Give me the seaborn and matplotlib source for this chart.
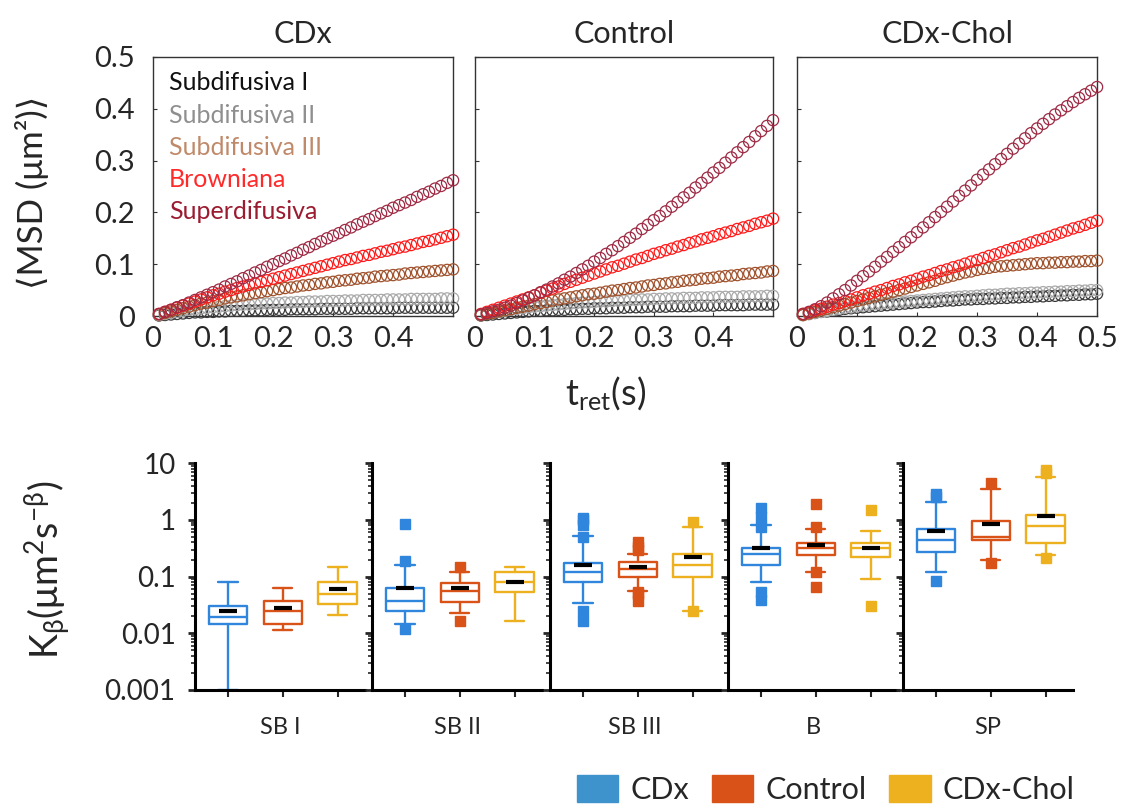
import numpy as np
import pandas as pd
import matplotlib
matplotlib.use("Agg")
import matplotlib.pyplot as plt
from matplotlib.patches import Patch
import seaborn as sns

# MSD curves, lag time 0.01 .. 0.50 s
T_RET = [0.01, 0.02, 0.03, 0.04, 0.05, 0.06, 0.07, 0.08, 0.09, 0.10,
         0.11, 0.12, 0.13, 0.14, 0.15, 0.16, 0.17, 0.18, 0.19, 0.20,
         0.21, 0.22, 0.23, 0.24, 0.25, 0.26, 0.27, 0.28, 0.29, 0.30,
         0.31, 0.32, 0.33, 0.34, 0.35, 0.36, 0.37, 0.38, 0.39, 0.40,
         0.41, 0.42, 0.43, 0.44, 0.45, 0.46, 0.47, 0.48, 0.49, 0.50]

CLASSES = ["Subdifusiva I", "Subdifusiva II", "Subdifusiva III", "Browniana", "Superdifusiva"]
MARKER_COLORS = ["#3a3a3a", "#a9a9a9", "#a0522d", "#ff1a1a", "#9e2a44"]
TEXT_COLORS = ["#111111", "#8f8f8f", "#c08a6a", "#ff2a2a", "#9b1b30"]
PANELS = ["CDx", "Control", "CDx-Chol"]

# CDx
cdx_sub1 = [0.001, 0.002, 0.003, 0.004, 0.005, 0.006, 0.007, 0.007, 0.008, 0.008,
            0.009, 0.009, 0.010, 0.010, 0.010, 0.011, 0.011, 0.011, 0.012, 0.012,
            0.012, 0.012, 0.013, 0.013, 0.013, 0.013, 0.013, 0.014, 0.014, 0.014,
            0.014, 0.014, 0.014, 0.015, 0.015, 0.015, 0.015, 0.015, 0.015, 0.015,
            0.016, 0.016, 0.016, 0.016, 0.016, 0.016, 0.016, 0.016, 0.016, 0.016]
cdx_sub2 = [0.002, 0.004, 0.006, 0.008, 0.010, 0.012, 0.013, 0.015, 0.016, 0.017,
            0.018, 0.019, 0.020, 0.021, 0.022, 0.022, 0.023, 0.024, 0.024, 0.025,
            0.025, 0.026, 0.026, 0.027, 0.027, 0.028, 0.028, 0.028, 0.029, 0.029,
            0.029, 0.030, 0.030, 0.030, 0.031, 0.031, 0.031, 0.031, 0.032, 0.032,
            0.032, 0.032, 0.033, 0.033, 0.033, 0.033, 0.033, 0.034, 0.034, 0.034]
cdx_sub3 = [0.003, 0.006, 0.009, 0.012, 0.015, 0.018, 0.021, 0.024, 0.026, 0.029,
            0.031, 0.034, 0.036, 0.038, 0.040, 0.042, 0.044, 0.046, 0.048, 0.050,
            0.052, 0.054, 0.055, 0.057, 0.059, 0.060, 0.062, 0.063, 0.065, 0.066,
            0.068, 0.069, 0.070, 0.072, 0.073, 0.074, 0.076, 0.077, 0.078, 0.079,
            0.080, 0.082, 0.083, 0.084, 0.085, 0.086, 0.087, 0.088, 0.089, 0.090]
cdx_brown = [0.004, 0.008, 0.012, 0.016, 0.020, 0.024, 0.028, 0.032, 0.036, 0.040,
             0.043, 0.047, 0.050, 0.054, 0.057, 0.060, 0.063, 0.066, 0.069, 0.072,
             0.075, 0.078, 0.081, 0.084, 0.087, 0.090, 0.093, 0.096, 0.099, 0.102,
             0.105, 0.108, 0.110, 0.113, 0.116, 0.118, 0.121, 0.124, 0.126, 0.129,
             0.132, 0.134, 0.137, 0.140, 0.143, 0.145, 0.148, 0.151, 0.154, 0.157]
cdx_super = [0.004, 0.008, 0.012, 0.017, 0.021, 0.026, 0.031, 0.036, 0.041, 0.046,
             0.051, 0.057, 0.062, 0.067, 0.073, 0.078, 0.084, 0.089, 0.095, 0.100,
             0.106, 0.111, 0.117, 0.122, 0.128, 0.133, 0.139, 0.144, 0.150, 0.155,
             0.160, 0.166, 0.171, 0.177, 0.182, 0.187, 0.193, 0.198, 0.203, 0.209,
             0.214, 0.219, 0.224, 0.230, 0.235, 0.240, 0.246, 0.251, 0.257, 0.262]

# Control
ctl_sub1 = [0.001, 0.002, 0.003, 0.004, 0.005, 0.006, 0.007, 0.008, 0.009, 0.010,
            0.010, 0.011, 0.011, 0.012, 0.012, 0.013, 0.013, 0.014, 0.014, 0.015,
            0.015, 0.015, 0.016, 0.016, 0.016, 0.017, 0.017, 0.017, 0.018, 0.018,
            0.018, 0.018, 0.019, 0.019, 0.019, 0.019, 0.020, 0.020, 0.020, 0.020,
            0.021, 0.021, 0.021, 0.021, 0.021, 0.022, 0.022, 0.022, 0.022, 0.022]
ctl_sub2 = [0.002, 0.004, 0.006, 0.008, 0.010, 0.012, 0.014, 0.015, 0.017, 0.018,
            0.019, 0.020, 0.021, 0.022, 0.023, 0.024, 0.025, 0.026, 0.026, 0.027,
            0.028, 0.028, 0.029, 0.030, 0.030, 0.031, 0.031, 0.032, 0.032, 0.033,
            0.033, 0.034, 0.034, 0.034, 0.035, 0.035, 0.035, 0.036, 0.036, 0.036,
            0.037, 0.037, 0.037, 0.037, 0.038, 0.038, 0.038, 0.038, 0.039, 0.039]
ctl_sub3 = [0.002, 0.004, 0.006, 0.009, 0.011, 0.013, 0.016, 0.018, 0.020, 0.023,
            0.025, 0.027, 0.030, 0.032, 0.034, 0.036, 0.038, 0.040, 0.042, 0.043,
            0.045, 0.047, 0.049, 0.050, 0.052, 0.054, 0.055, 0.057, 0.059, 0.060,
            0.062, 0.063, 0.065, 0.066, 0.068, 0.069, 0.070, 0.072, 0.073, 0.074,
            0.076, 0.077, 0.078, 0.079, 0.081, 0.082, 0.083, 0.084, 0.086, 0.087]
ctl_brown = [0.004, 0.008, 0.012, 0.016, 0.020, 0.024, 0.028, 0.032, 0.036, 0.040,
             0.045, 0.049, 0.053, 0.057, 0.062, 0.066, 0.070, 0.074, 0.078, 0.082,
             0.086, 0.090, 0.094, 0.097, 0.101, 0.105, 0.109, 0.112, 0.116, 0.120,
             0.123, 0.127, 0.130, 0.134, 0.137, 0.141, 0.144, 0.148, 0.151, 0.154,
             0.158, 0.161, 0.164, 0.168, 0.171, 0.174, 0.178, 0.181, 0.184, 0.188]
ctl_super = [0.003, 0.006, 0.009, 0.012, 0.016, 0.020, 0.025, 0.030, 0.035, 0.040,
             0.046, 0.051, 0.057, 0.063, 0.070, 0.076, 0.083, 0.090, 0.097, 0.105,
             0.112, 0.120, 0.127, 0.135, 0.143, 0.151, 0.159, 0.168, 0.176, 0.185,
             0.193, 0.202, 0.211, 0.220, 0.229, 0.238, 0.248, 0.257, 0.267, 0.277,
             0.286, 0.296, 0.306, 0.316, 0.326, 0.336, 0.347, 0.357, 0.367, 0.378]

# CDx-Chol
chol_sub1 = [0.002, 0.004, 0.006, 0.008, 0.009, 0.011, 0.012, 0.014, 0.015, 0.016,
             0.017, 0.018, 0.019, 0.020, 0.021, 0.022, 0.023, 0.024, 0.025, 0.026,
             0.027, 0.027, 0.028, 0.029, 0.030, 0.030, 0.031, 0.032, 0.032, 0.033,
             0.033, 0.034, 0.034, 0.035, 0.035, 0.036, 0.036, 0.037, 0.037, 0.038,
             0.038, 0.039, 0.039, 0.040, 0.040, 0.041, 0.041, 0.042, 0.042, 0.043]
chol_sub2 = [0.002, 0.004, 0.006, 0.008, 0.010, 0.012, 0.014, 0.016, 0.017, 0.019,
             0.020, 0.022, 0.023, 0.024, 0.025, 0.026, 0.027, 0.028, 0.029, 0.030,
             0.031, 0.032, 0.033, 0.034, 0.035, 0.036, 0.037, 0.038, 0.038, 0.039,
             0.040, 0.041, 0.041, 0.042, 0.043, 0.043, 0.044, 0.044, 0.045, 0.045,
             0.046, 0.046, 0.047, 0.047, 0.048, 0.048, 0.049, 0.049, 0.050, 0.050]
chol_sub3 = [0.002, 0.005, 0.008, 0.011, 0.014, 0.017, 0.020, 0.023, 0.026, 0.029,
             0.032, 0.035, 0.038, 0.041, 0.044, 0.047, 0.050, 0.053, 0.056, 0.059,
             0.062, 0.065, 0.068, 0.072, 0.075, 0.078, 0.081, 0.084, 0.086, 0.089,
             0.091, 0.093, 0.095, 0.096, 0.097, 0.098, 0.099, 0.100, 0.101, 0.102,
             0.102, 0.103, 0.103, 0.104, 0.104, 0.105, 0.105, 0.106, 0.106, 0.107]
chol_brown = [0.004, 0.007, 0.011, 0.014, 0.018, 0.022, 0.025, 0.029, 0.032, 0.036,
              0.040, 0.043, 0.047, 0.050, 0.054, 0.058, 0.061, 0.065, 0.068, 0.072,
              0.076, 0.079, 0.083, 0.087, 0.090, 0.094, 0.097, 0.101, 0.105, 0.108,
              0.112, 0.116, 0.119, 0.123, 0.127, 0.131, 0.134, 0.138, 0.142, 0.146,
              0.149, 0.153, 0.157, 0.161, 0.165, 0.169, 0.172, 0.176, 0.180, 0.184]
chol_super = [0.004, 0.008, 0.013, 0.019, 0.026, 0.034, 0.042, 0.050, 0.059, 0.068,
              0.077, 0.086, 0.095, 0.105, 0.114, 0.124, 0.133, 0.143, 0.152, 0.162,
              0.171, 0.181, 0.191, 0.201, 0.211, 0.221, 0.232, 0.242, 0.252, 0.263,
              0.273, 0.283, 0.293, 0.303, 0.313, 0.323, 0.333, 0.343, 0.353, 0.362,
              0.371, 0.380, 0.389, 0.397, 0.405, 0.413, 0.421, 0.428, 0.435, 0.442]

MSD = {
    "CDx": [cdx_sub1, cdx_sub2, cdx_sub3, cdx_brown, cdx_super],
    "Control": [ctl_sub1, ctl_sub2, ctl_sub3, ctl_brown, ctl_super],
    "CDx-Chol": [chol_sub1, chol_sub2, chol_sub3, chol_brown, chol_super],
}

# K_beta box statistics, groups SB I, SB II, SB III, B, SP
GROUPS = ["SB I", "SB II", "SB III", "B", "SP"]
CONDITIONS = ["CDx", "Control", "CDx-Chol"]
BOX_COLORS = ["#2f86dc", "#d95319", "#edb120"]
LEGEND_COLORS = ["#3f93cc", "#d95319", "#edb120"]

cdx_q1 = [0.0148, 0.0249, 0.081, 0.163, 0.27]
cdx_med = [0.019, 0.0375, 0.119, 0.25, 0.435]
cdx_q3 = [0.0305, 0.062, 0.175, 0.32, 0.70]
cdx_lo = [0.001, 0.0148, 0.0337, 0.079, 0.119]
cdx_hi = [0.081, 0.163, 0.53, 0.80, 2.09]
cdx_mean = [0.025, 0.062, 0.163, 0.32, 0.64]
cdx_fliers = [[], [0.84, 0.19, 0.0117], [0.99, 1.1, 0.80, 0.50, 0.025, 0.0166],
              [1.59, 1.13, 0.75, 0.053, 0.0385], [2.56, 2.9, 0.085]]

ctl_q1 = [0.0148, 0.036, 0.10, 0.236, 0.44]
ctl_med = [0.025, 0.056, 0.137, 0.32, 0.49]
ctl_q3 = [0.037, 0.076, 0.18, 0.39, 0.96]
ctl_lo = [0.0113, 0.0226, 0.056, 0.119, 0.198]
ctl_hi = [0.062, 0.119, 0.25, 0.70, 3.45]
ctl_mean = [0.0278, 0.062, 0.147, 0.355, 0.86]
ctl_fliers = [[], [0.15, 0.0166], [0.33, 0.40, 0.30, 0.053, 0.0375, 0.05],
              [1.9, 0.75, 0.12, 0.065], [4.4, 0.175]]

chol_q1 = [0.033, 0.054, 0.10, 0.22, 0.39]
chol_med = [0.049, 0.081, 0.163, 0.32, 0.77]
chol_q3 = [0.081, 0.123, 0.25, 0.39, 1.21]
chol_lo = [0.021, 0.0166, 0.0249, 0.091, 0.236]
chol_hi = [0.147, 0.147, 0.75, 0.64, 5.6]
chol_mean = [0.060, 0.081, 0.22, 0.32, 1.16]
chol_fliers = [[], [], [0.92, 0.025], [1.49, 0.0297], [7.6, 6.6, 0.21]]

BOX_STATS = [
    (cdx_q1, cdx_med, cdx_q3, cdx_lo, cdx_hi, cdx_mean, cdx_fliers),
    (ctl_q1, ctl_med, ctl_q3, ctl_lo, ctl_hi, ctl_mean, ctl_fliers),
    (chol_q1, chol_med, chol_q3, chol_lo, chol_hi, chol_mean, chol_fliers),
]

sns.set_theme(style="white")
plt.rcParams["font.family"] = ["Lato", "DejaVu Sans"]
plt.rcParams["mathtext.fontset"] = "custom"
plt.rcParams["mathtext.rm"] = "Lato"
plt.rcParams["mathtext.it"] = "Lato:italic"
plt.rcParams["mathtext.fallback"] = "stixsans"

fig = plt.figure(figsize=(11.31, 8.07), dpi=100)

# top: MSD panels
top_pos = [[0.1353, 0.6084, 0.2653, 0.321],
           [0.4200, 0.6084, 0.2635, 0.321],
           [0.7047, 0.6084, 0.2653, 0.321]]

rows = []
for panel in PANELS:
    for cls, vals in zip(CLASSES, MSD[panel]):
        for t, v in zip(T_RET, vals):
            rows.append((panel, cls, t, v))
df = pd.DataFrame(rows, columns=["panel", "tipo", "t", "msd"])

for i, panel in enumerate(PANELS):
    ax = fig.add_axes(top_pos[i])
    for cls, col in zip(CLASSES, MARKER_COLORS):
        sub = df[(df["panel"] == panel) & (df["tipo"] == cls)]
        sns.scatterplot(data=sub, x="t", y="msd", ax=ax, marker="o", s=65,
                        facecolor="none", edgecolor=col, linewidth=0.9,
                        clip_on=False, zorder=3)
    ax.set_xlim(0, 0.5)
    ax.set_ylim(0, 0.5)
    ax.set_xlabel("")
    ax.set_ylabel("")
    if i < 2:
        ax.set_xticks([0, 0.1, 0.2, 0.3, 0.4])
        ax.set_xticklabels(["0", "0.1", "0.2", "0.3", "0.4"])
    else:
        ax.set_xticks([0, 0.1, 0.2, 0.3, 0.4, 0.5])
        ax.set_xticklabels(["0", "0.1", "0.2", "0.3", "0.4", "0.5"])
    ax.set_yticks([0, 0.1, 0.2, 0.3, 0.4, 0.5])
    if i == 0:
        ax.set_yticklabels(["0", "0.1", "0.2", "0.3", "0.4", "0.5"])
    else:
        ax.set_yticklabels([])
    ax.tick_params(direction="in", length=3, width=0.8, color="#333333",
                   labelsize=21, left=True, bottom=True)
    ax.tick_params(axis="x", pad=7)
    ax.tick_params(axis="y", pad=13)
    for sp in ax.spines.values():
        sp.set_color("#333333")
        sp.set_linewidth(1.0)
    ax.set_title(panel, fontsize=22, pad=10)

    if i == 0:
        for k, (cls, tc) in enumerate(zip(CLASSES, TEXT_COLORS)):
            ax.text(0.053, 0.90 - k * 0.124, cls, color=tc, fontsize=18,
                    va="center", ha="left", transform=ax.transAxes)

fig.text(0.028, 0.762, "\u27e8MSD (\u03bcm\u00b2)\u27e9", rotation=90,
         fontsize=25, ha="center", va="center")
fig.text(0.535, 0.512, r"t$_{\mathrm{ret}}$(s)", fontsize=26, ha="center", va="center")

# bottom: K_beta boxes
bot_left = [195, 372, 550, 728, 903]
for g, group in enumerate(GROUPS):
    ax = fig.add_axes([bot_left[g] / 1131, 0.145, 170 / 1131, 0.281])
    for c, col in enumerate(BOX_COLORS):
        q1, med, q3, lo, hi, mean, fl = BOX_STATS[c]
        stats = [{"q1": q1[g], "med": med[g], "q3": q3[g], "whislo": lo[g],
                  "whishi": hi[g], "mean": mean[g], "fliers": fl[g]}]
        lw = 1.7
        ax.bxp(stats, positions=[c], widths=0.7, capwidths=0.35,
               showmeans=True, showfliers=True, patch_artist=False,
               boxprops=dict(color=col, linewidth=lw),
               medianprops=dict(color=col, linewidth=lw),
               whiskerprops=dict(color=col, linewidth=lw),
               capprops=dict(color=col, linewidth=lw),
               meanprops=dict(marker="_", markeredgecolor="black", markersize=13,
                              markeredgewidth=3),
               flierprops=dict(marker="s", markerfacecolor=col, markeredgecolor=col,
                               markersize=6.5))
    ax.set_yscale("log")
    ax.set_ylim(0.001, 10)
    ax.set_xlim(-0.6, 2.5)
    ax.set_xticks([0, 1, 2])
    ax.set_xticklabels([])
    ax.set_yticks([0.001, 0.01, 0.1, 1, 10])
    if g == 0:
        ax.set_yticklabels(["0.001", "0.01", "0.1", "1", "10"])
    else:
        ax.set_yticklabels([])
    ax.tick_params(axis="y", which="major", direction="out", length=5, width=2,
                   labelsize=20, left=True, pad=9)
    ax.tick_params(axis="y", which="minor", direction="out", length=3, width=1.2,
                   left=True)
    ax.tick_params(axis="x", direction="out", length=5, width=1.5, bottom=True)
    sns.despine(ax=ax, top=True, right=True)
    for side in ["left", "bottom"]:
        ax.spines[side].set_color("black")
        ax.spines[side].set_linewidth(2.2)
    ax.set_xlabel(group, fontsize=17, labelpad=11)

fig.text(0.042, 0.294, r"K$_{\mathrm{β}}$(μm$^{2}$s$^{-\mathrm{β}}$)", rotation=90,
         fontsize=27, ha="center", va="center")

handles = [Patch(facecolor=c, edgecolor=c) for c in LEGEND_COLORS]
fig.legend(handles, CONDITIONS, loc="center", bbox_to_anchor=(0.73, 0.022),
           ncol=3, frameon=False, fontsize=22, handlelength=1.35, handleheight=1.0,
           handletextpad=0.4, columnspacing=0.75)

fig.savefig("out.png", dpi=100)
